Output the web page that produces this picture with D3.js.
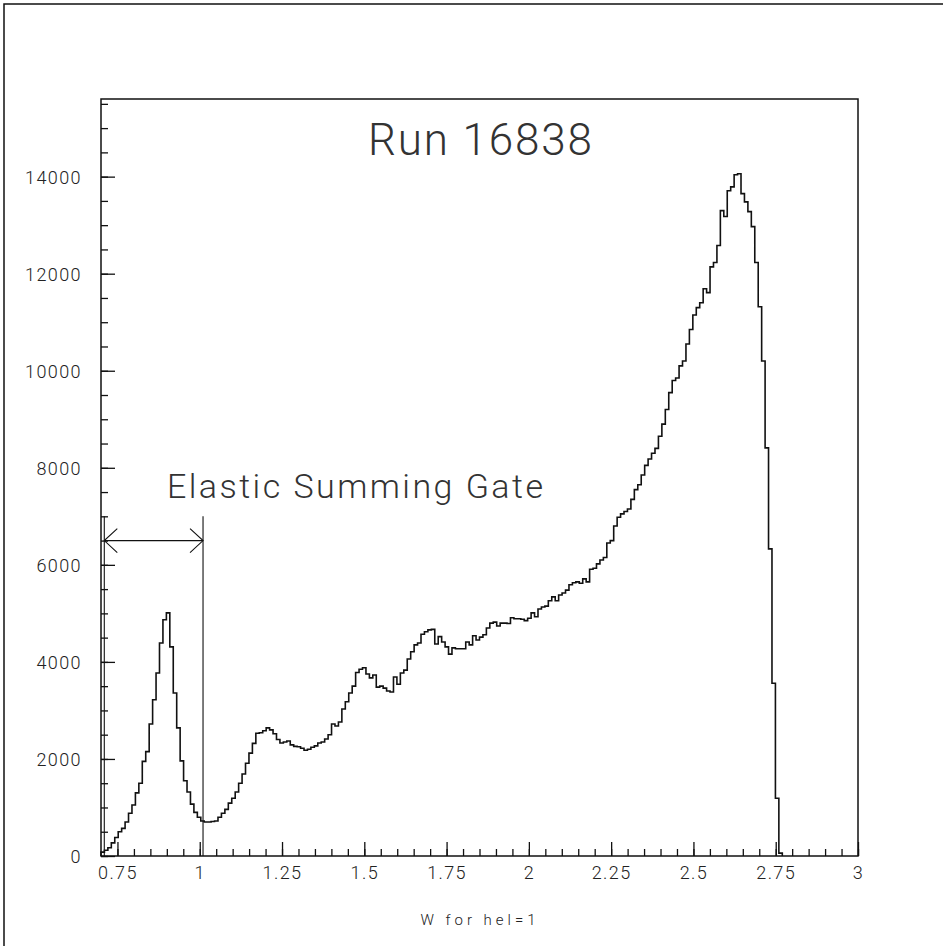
<!DOCTYPE html>
<html>
<head>
<meta charset="utf-8">
<script src="https://cdn.jsdelivr.net/npm/d3@7"></script>
<style>
  body { margin: 0; background: #fff; overflow: hidden; }
  svg { display: block; }
  text { font-family: Roboto, "Liberation Sans", sans-serif; font-weight: 300; }
  .tick text { fill: #222; }
</style>
</head>
<body>
<div id="container"></div>
<script>
// histogram setup: 220 bins over [0.7, 3.0], only the first ones are filled
const binLow = 0.7, binHigh = 3.0, nBins = 220;

// counts per bin
const counts = [
  80, 120, 170, 270, 380, 500, 570, 700, 880, 1050,
  1300, 1500, 1950, 2150, 2720, 3220, 3770, 4390, 4870, 5010,
  4310, 3360, 2640, 1960, 1550, 1320, 1070, 900, 800, 720,
  700, 700, 710, 720, 800, 880, 960, 1090, 1190, 1320,
  1500, 1690, 1910, 2120, 2320, 2530, 2540, 2580, 2640, 2600,
  2520, 2400, 2330, 2350, 2370, 2290, 2260, 2250, 2220, 2180,
  2200, 2240, 2270, 2330, 2350, 2410, 2500, 2720, 2680, 2760,
  3030, 3180, 3360, 3500, 3780, 3850, 3880, 3750, 3670, 3730,
  3480, 3500, 3460, 3400, 3380, 3690, 3540, 3770, 3830, 4060,
  4210, 4350, 4390, 4570, 4620, 4660, 4670, 4370, 4520, 4410,
  4310, 4160, 4290, 4270, 4270, 4270, 4410, 4350, 4540, 4450,
  4510, 4560, 4700, 4800, 4820, 4740, 4800, 4800, 4790, 4910,
  4890, 4890, 4880, 4850, 4900, 5010, 4930, 5090, 5130, 5150,
  5260, 5340, 5260, 5380, 5420, 5480, 5590, 5630, 5650, 5620,
  5710, 5650, 5910, 5930, 6020, 6100, 6150, 6450, 6500, 6800,
  6980, 7050, 7100, 7150, 7350, 7550, 7650, 7850, 8050, 8180,
  8300, 8400, 8650, 8900, 9200, 9550, 9800, 9850, 10100, 10200,
  10550, 10850, 11150, 11300, 11400, 11690, 11610, 12140, 12230, 12580,
  13300, 13180, 13710, 13790, 14040, 14060, 13650, 13480, 13280, 12970,
  12230, 11320, 10200, 8410, 6330, 3560, 1190, 60
];

const xMajor = [0.75, 1, 1.25, 1.5, 1.75, 2, 2.25, 2.5, 2.75, 3];
const xLabels = ["0.75", "1", "1.25", "1.5", "1.75", "2", "2.25", "2.5", "2.75", "3"];
const xMinorStep = 0.05;
const yMajor = [0, 2000, 4000, 6000, 8000, 10000, 12000, 14000];
const yLabels = ["0", "2000", "4000", "6000", "8000", "10000", "12000", "14000"];
const yMinorStep = 500;

// elastic gate: edges and arrow height
const gate = { lo: 0.71, hi: 1.01, top: 7000, arrow: 6500 };

const title = "Run 16838";
const gateLabel = "Elastic Summing Gate";
const xTitle = "W  for hel=1";

const width = 943, height = 946;
const frame = { left: 101, right: 858, top: 99, bottom: 856 };

const svg = d3.select("#container").append("svg")
  .attr("width", width)
  .attr("height", height);

// outer page border (only top and left are visible)
svg.append("path")
  .attr("d", `M4,${height}V4H${width}`)
  .attr("fill", "none").attr("stroke", "#111").attr("stroke-width", 1.5);

const x = d3.scaleLinear().domain([binLow, binHigh]).range([frame.left, frame.right]);
const y = d3.scaleLinear().domain([0, 15600]).range([frame.bottom, frame.top]);

// minor ticks
const xMinor = d3.range(0.75, binHigh + 1e-6, xMinorStep);
const yMinor = d3.range(0, 15600, yMinorStep);

svg.append("g")
  .attr("transform", `translate(0,${frame.bottom})`)
  .call(d3.axisBottom(x).tickValues(xMinor).tickSize(-7).tickFormat(""))
  .call(g => g.select(".domain").remove())
  .selectAll("line").attr("stroke", "#111").attr("stroke-width", 1.3);

svg.append("g")
  .attr("transform", `translate(${frame.left},0)`)
  .call(d3.axisLeft(y).tickValues(yMinor).tickSize(-7).tickFormat(""))
  .call(g => g.select(".domain").remove())
  .selectAll("line").attr("stroke", "#111").attr("stroke-width", 1.3);

// major ticks with labels
const xAxisG = svg.append("g")
  .attr("transform", `translate(0,${frame.bottom})`)
  .call(d3.axisBottom(x).tickValues(xMajor).tickSize(-14).tickPadding(10)
    .tickFormat((d, i) => xLabels[i]))
  .call(g => g.select(".domain").remove());
xAxisG.selectAll("line").attr("stroke", "#111").attr("stroke-width", 1.3);
xAxisG.selectAll("text").attr("font-size", 18).attr("letter-spacing", 1.4);

const yAxisG = svg.append("g")
  .attr("transform", `translate(${frame.left},0)`)
  .call(d3.axisLeft(y).tickValues(yMajor).tickSize(-14).tickPadding(19)
    .tickFormat((d, i) => yLabels[i]))
  .call(g => g.select(".domain").remove());
yAxisG.selectAll("line").attr("stroke", "#111").attr("stroke-width", 1.3);
yAxisG.selectAll("text").attr("font-size", 18).attr("letter-spacing", 1.4)
  .attr("dy", "0.38em");

// histogram as a step line
const binW = (binHigh - binLow) / nBins;
const pts = [{ e: binLow, v: 0 }]
  .concat(counts.map((v, i) => ({ e: binLow + i * binW, v: v })))
  .concat([{ e: binLow + counts.length * binW, v: 0 }]);

const line = d3.line()
  .x(d => x(d.e))
  .y(d => y(d.v))
  .curve(d3.curveStepAfter);

svg.append("path")
  .datum(pts)
  .attr("d", line)
  .attr("fill", "none")
  .attr("stroke", "#111")
  .attr("stroke-width", 1.6);

// frame
svg.append("rect")
  .attr("x", frame.left).attr("y", frame.top)
  .attr("width", frame.right - frame.left).attr("height", frame.bottom - frame.top)
  .attr("fill", "none").attr("stroke", "#111").attr("stroke-width", 1.5);

// gate lines and double arrow
const gateG = svg.append("g").attr("stroke", "#111").attr("stroke-width", 1.1).attr("fill", "none");
[gate.lo, gate.hi].forEach(g => {
  gateG.append("line")
    .attr("x1", x(g)).attr("x2", x(g))
    .attr("y1", y(gate.top)).attr("y2", y(0));
});
const ay = y(gate.arrow), ax1 = x(gate.lo), ax2 = x(gate.hi);
gateG.append("line").attr("x1", ax1).attr("x2", ax2).attr("y1", ay).attr("y2", ay);
gateG.append("path").attr("d", `M${ax1 + 13},${ay - 12}L${ax1},${ay}L${ax1 + 13},${ay + 12}`);
gateG.append("path").attr("d", `M${ax2 - 13},${ay - 12}L${ax2},${ay}L${ax2 - 13},${ay + 12}`);

// texts
svg.append("text")
  .attr("x", 480).attr("y", 155)
  .attr("text-anchor", "middle")
  .attr("font-size", 44)
  .attr("textLength", 224)
  .attr("lengthAdjust", "spacing")
  .attr("fill", "#333")
  .text(title);

svg.append("text")
  .attr("x", 355).attr("y", 498)
  .attr("text-anchor", "middle")
  .attr("font-size", 34)
  .attr("textLength", 376)
  .attr("lengthAdjust", "spacing")
  .attr("fill", "#333")
  .text(gateLabel);

svg.append("text")
  .attr("x", 478).attr("y", 925)
  .attr("text-anchor", "middle")
  .attr("font-size", 15)
  .attr("textLength", 115)
  .attr("lengthAdjust", "spacing")
  .attr("fill", "#222")
  .text(xTitle);
</script>
</body>
</html>
